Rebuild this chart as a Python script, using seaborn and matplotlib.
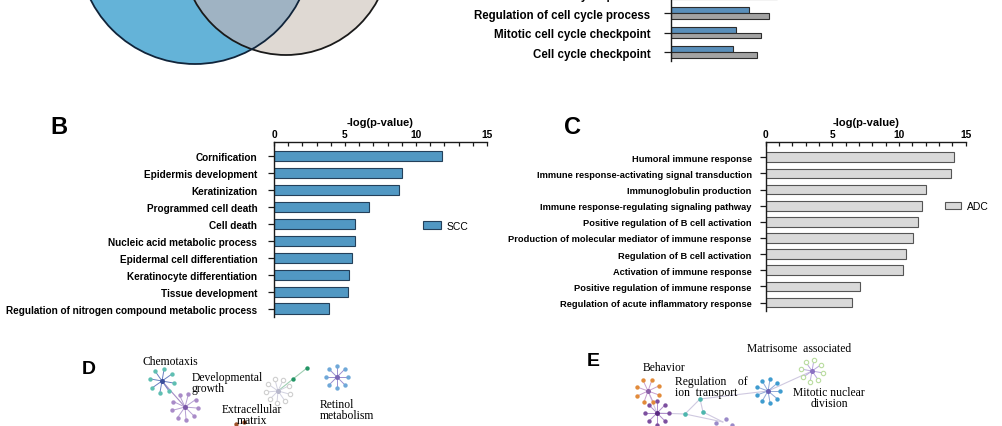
import numpy as np
import pandas as pd
import matplotlib
matplotlib.use("Agg")
import matplotlib.pyplot as plt
from matplotlib.patches import Circle
from matplotlib.ticker import MultipleLocator
import seaborn as sns

# Panel B - enriched GO terms, SCC
scc_terms = ["Cornification", "Epidermis development", "Keratinization",
             "Programmed cell death", "Cell death", "Nucleic acid metabolic process",
             "Epidermal cell differentiation", "Keratinocyte differentiation",
             "Tissue development", "Regulation of nitrogen compound metabolic process"]
scc_values = [11.8, 9.0, 8.8, 6.7, 5.7, 5.7, 5.5, 5.3, 5.2, 3.9]

# Panel C - enriched GO terms, ADC
adc_terms = ["Humoral immune response", "Immune response-activating signal transduction",
             "Immunoglobulin production", "Immune response-regulating signaling pathway",
             "Positive regulation of B cell activation",
             "Production of molecular mediator of immune response",
             "Regulation of B cell activation", "Activation of immune response",
             "Positive regulation of immune response",
             "Regulation of acute inflammatory response"]
adc_values = [14.1, 13.9, 12.0, 11.7, 11.45, 11.05, 10.5, 10.3, 7.05, 6.5]

# top-right panel (cut off by the crop)
cycle_terms = ["Mitotic cell cycle process", "Regulation of cell cycle process",
               "Mitotic cell cycle checkpoint", "Cell cycle checkpoint"]
cycle_scc = [6.6, 5.9, 4.9, 4.7]
cycle_adc = [8.0, 7.35, 6.8, 6.5]

W, H = 1003, 427
BLUE = "#5198c3"
BLUE_EDGE = "#24405a"
LGRAY = "#d9d9d9"
GRAY_EDGE = "#555555"

sns.set_theme(style="white")
plt.rcParams["font.family"] = ["Liberation Sans", "DejaVu Sans"]
plt.rcParams["text.color"] = "black"
plt.rcParams["axes.labelcolor"] = "black"


def rect(x0, y0, x1, y1):
    # pixel box (top-left origin) -> figure fraction
    return [x0 / W, 1 - y1 / H, (x1 - x0) / W, (y1 - y0) / H]


def style_go_axis(ax, pad, labelsize):
    for s in ["right", "bottom"]:
        ax.spines[s].set_visible(False)
    for s in ["left", "top"]:
        ax.spines[s].set_linewidth(1.0)
        ax.spines[s].set_color("#1a1a1a")
    ax.xaxis.tick_top()
    ax.xaxis.set_label_position("top")
    ax.set_xlim(0, 15)
    ax.set_xticks([0, 5, 10, 15])
    ax.xaxis.set_minor_locator(MultipleLocator(1))
    ax.tick_params(axis="x", which="both", direction="in", length=3, width=0.9,
                   top=True, bottom=False, labelsize=7.4, pad=2, colors="#1a1a1a",
                   labelcolor="black")
    ax.tick_params(axis="y", length=4, width=0.9, pad=pad, labelsize=labelsize,
                   left=True, colors="#1a1a1a", labelcolor="black")
    ax.set_xlabel("-log(p-value)", fontsize=8, fontweight="bold", labelpad=3)
    ax.set_ylabel("")
    for lbl in ax.get_yticklabels() + ax.get_xticklabels():
        lbl.set_fontweight("bold")


fig = plt.figure(figsize=(W / 100, H / 100), dpi=100)

# background canvas in pixel coordinates for the venn and the networks
canvas = fig.add_axes([0, 0, 1, 1])
canvas.set_xlim(0, W)
canvas.set_ylim(H, 0)
canvas.axis("off")

# Venn diagram (only its lower part is in the crop)
blue_c = Circle((195, -52), 117, facecolor="#64b3d8", edgecolor="none")
beige_c = Circle((286, -48), 104, facecolor="#dfd9d3", edgecolor="none")
canvas.add_patch(beige_c)
canvas.add_patch(blue_c)
overlap = Circle((195, -52), 117, facecolor="#9fb3c3", edgecolor="none")
canvas.add_patch(overlap)
overlap.set_clip_path(Circle((286, -48), 104, transform=canvas.transData))
canvas.add_patch(Circle((286, -48), 104, facecolor="none", edgecolor="#1a1a1a", lw=1.3))
canvas.add_patch(Circle((195, -52), 117, facecolor="none", edgecolor="#10243a", lw=1.3))


def star(cx, cy, n, r, color, center, rot=0.0, hollow=False, edge="#b9b2d6"):
    ang = np.deg2rad(rot) + np.linspace(0, 2 * np.pi, n, endpoint=False)
    xs = cx + r * np.cos(ang)
    ys = cy + r * np.sin(ang)
    for x, y in zip(xs, ys):
        canvas.plot([cx, x], [cy, y], color=edge, lw=0.7, zorder=1)
    if hollow:
        canvas.scatter(xs, ys, s=10, facecolor="white", edgecolor=color, lw=0.8, zorder=2)
    else:
        canvas.scatter(xs, ys, s=10, color=color, lw=0, zorder=2)
    canvas.scatter([cx], [cy], s=13, color=center, lw=0, zorder=3)


def link(p, q, color="#cfc9e0"):
    canvas.plot([p[0], q[0]], [p[1], q[1]], color=color, lw=0.8, zorder=0)


# panel D network
link((162, 382), (185, 408), "#a58cc4")
link((278, 392), (293, 380), "#9fcfb3")
link((293, 380), (307, 369), "#9fcfb3")
star(162, 382, 8, 12, "#5fbfb2", "#3b4f9c", rot=10, edge="#6a7fc0")
star(185, 408, 9, 13, "#a98bc8", "#7a57a8", rot=5, edge="#b59fd2")
star(278, 392, 9, 12, "#cfcfcf", "#b8b8cc", rot=15, hollow=True, edge="#d2d2e0")
canvas.scatter([293, 307], [380, 369], s=10, color="#239565", lw=0, zorder=3)
star(337, 378, 8, 11, "#6fa8d8", "#7a66b6", rot=0, edge="#9b8fd0")
canvas.scatter([236, 244], [425, 423], s=10, color="#a0532a", lw=0, zorder=3)

serif = ["Liberation Serif", "DejaVu Serif"]
canvas.text(143, 362, "Chemotaxis", family=serif, fontsize=8.4, va="center", ha="left")
canvas.text(192, 372, "Developmental\ngrowth", family=serif, fontsize=8.4, va="top",
            ha="left", linespacing=0.9)
canvas.text(252, 404, "Extracellular\nmatrix", family=serif, fontsize=8.4, va="top",
            ha="center", linespacing=0.9)
canvas.text(320, 399, "Retinol\nmetabolism", family=serif, fontsize=8.4, va="top",
            ha="left", linespacing=0.9)
canvas.text(82, 370, "D", fontsize=14, fontweight="bold", va="center", ha="left")

# panel E network
link((648, 392), (657, 414))
link((657, 414), (685, 415))
link((685, 415), (700, 400))
link((700, 400), (703, 413))
link((703, 413), (723, 423))
link((700, 400), (768, 392))
link((768, 392), (812, 372))
link((685, 415), (723, 423))
star(648, 392, 8, 12, "#e28b3a", "#8a5fa8", rot=20, edge="#c8a0d0")
star(657, 414, 8, 12, "#7c4f9f", "#5b2a82", rot=0, edge="#b08fcc")
canvas.scatter([700, 703, 685], [400, 413, 415], s=11, color="#4db6ad", lw=0, zorder=3)
star(768, 392, 9, 12, "#3f9ccf", "#6a5fb6", rot=0, edge="#8fa9d8")
star(812, 372, 8, 11, "#b9dc9f", "#8b70c2", rot=10, hollow=True, edge="#b9a7dc")
canvas.scatter([716, 726, 732], [424, 420, 426], s=10, color="#9a8ac8", lw=0, zorder=3)

canvas.text(747, 349, "Matrisome  associated", family=serif, fontsize=8.4, va="center",
            ha="left")
canvas.text(643, 368, "Behavior", family=serif, fontsize=8.4, va="center", ha="left")
canvas.text(675, 376, "Regulation    of\nion  transport", family=serif, fontsize=8.4,
            va="top", ha="left", linespacing=0.9)
canvas.text(829, 387, "Mitotic nuclear\ndivision", family=serif, fontsize=8.4, va="top",
            ha="center", linespacing=0.9)
canvas.text(587, 362, "E", fontsize=14, fontweight="bold", va="center", ha="left")

# panel B
ax_b = fig.add_axes(rect(274, 143, 487, 318))
ax_b.patch.set_alpha(0)
b_df = pd.DataFrame({"term": scc_terms, "value": scc_values, "group": "SCC"})
sns.barplot(data=b_df, x="value", y="term", hue="group", palette=[BLUE], width=0.6,
            saturation=1, edgecolor=BLUE_EDGE, linewidth=0.8, ax=ax_b)
ax_b.set_ylim(9.5, -0.85)
style_go_axis(ax_b, pad=8, labelsize=7.2)
sns.move_legend(ax_b, "center left", bbox_to_anchor=(0.70, 0.52), frameon=False,
                title=None, fontsize=7.5, handlelength=1.7, handleheight=0.8,
                handletextpad=0.6, borderaxespad=0, borderpad=0)
fig.text(50 / W, 1 - 128 / H, "B", fontsize=17, fontweight="bold", va="center")

# panel C
ax_c = fig.add_axes(rect(765.7, 143, 965.7, 311.7))
ax_c.patch.set_alpha(0)
c_df = pd.DataFrame({"term": adc_terms, "value": adc_values, "group": "ADC"})
sns.barplot(data=c_df, x="value", y="term", hue="group", palette=[LGRAY], width=0.6,
            saturation=1, edgecolor=GRAY_EDGE, linewidth=0.8, ax=ax_c)
ax_c.set_ylim(9.5, -0.94)
style_go_axis(ax_c, pad=6, labelsize=6.7)
sns.move_legend(ax_c, "center left", bbox_to_anchor=(0.895, 0.62), frameon=False,
                title=None, fontsize=7.5, handlelength=1.6, handleheight=0.8,
                handletextpad=0.5, borderaxespad=0, borderpad=0)
fig.text(564 / W, 1 - 128 / H, "C", fontsize=17, fontweight="bold", va="center")

# top-right grouped bars (only the bottom of this panel is visible)
ax_t = fig.add_axes(rect(670.7, -16.3, 870.7, 61.7))
ax_t.patch.set_alpha(0)
t_df = pd.DataFrame({
    "term": cycle_terms * 2,
    "value": cycle_scc + cycle_adc,
    "group": ["SCC"] * len(cycle_terms) + ["ADC"] * len(cycle_terms),
})
sns.barplot(data=t_df, x="value", y="term", hue="group", palette=["#5a8fba", "#a3a3a3"],
            width=0.6, saturation=1, edgecolor="#2d2d2d", linewidth=0.8, ax=ax_t,
            legend=False)
ax_t.set_ylim(3.44, -0.56)
ax_t.set_xlim(0, 15)
for s in ["right", "bottom", "top"]:
    ax_t.spines[s].set_visible(False)
ax_t.spines["left"].set_linewidth(1.0)
ax_t.spines["left"].set_color("#1a1a1a")
ax_t.set_xticks([])
ax_t.set_xlabel("")
ax_t.set_ylabel("")
ax_t.tick_params(axis="y", length=5, width=0.9, pad=9.5, labelsize=8.3, left=True,
                 colors="#1a1a1a", labelcolor="black")
for lbl in ax_t.get_yticklabels():
    lbl.set_fontweight("bold")

fig.savefig("out.png", dpi=100)
